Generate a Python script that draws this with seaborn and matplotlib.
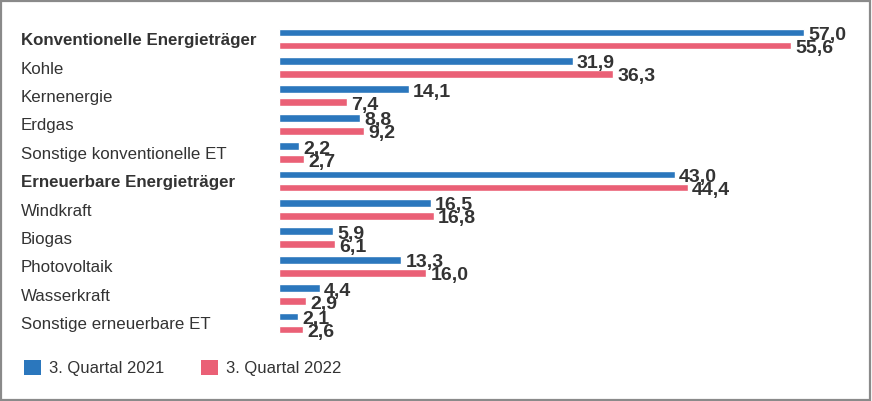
import matplotlib
matplotlib.use("Agg")
import matplotlib.pyplot as plt
import matplotlib.transforms as mtransforms
import numpy as np
import pandas as pd
import seaborn as sns
from matplotlib.patches import Patch, Rectangle

# --- data ---
kategorien = [
    "Konventionelle Energieträger",
    "Kohle",
    "Kernenergie",
    "Erdgas",
    "Sonstige konventionelle ET",
    "Erneuerbare Energieträger",
    "Windkraft",
    "Biogas",
    "Photovoltaik",
    "Wasserkraft",
    "Sonstige erneuerbare ET",
]
fett = ["Konventionelle Energieträger", "Erneuerbare Energieträger"]
werte_2021 = [57.0, 31.9, 14.1, 8.8, 2.2, 43.0, 16.5, 5.9, 13.3, 4.4, 2.1]
werte_2022 = [55.6, 36.3, 7.4, 9.2, 2.7, 44.4, 16.8, 6.1, 16.0, 2.9, 2.6]
serien = ["3. Quartal 2021", "3. Quartal 2022"]
farben = ["#2b77bd", "#ea6076"]

df = pd.DataFrame({
    "kategorie": kategorien * 2,
    "wert": werte_2021 + werte_2022,
    "quartal": [serien[0]] * len(kategorien) + [serien[1]] * len(kategorien),
})

W, H = 872, 401
textfarbe = "#333333"
sns.set_theme(style="white")
plt.rcParams["font.family"] = ["Liberation Sans", "DejaVu Sans"]

fig = plt.figure(figsize=(W / 100, H / 100), dpi=100)

# axes placed in pixel terms
x0, x1 = 279, 862
row0, step = 39.0, 28.4
y_top = row0 - step / 2
y_bot = y_top + step * len(kategorien)
ax = fig.add_axes([x0 / W, 1 - y_bot / H, (x1 - x0) / W, (y_bot - y_top) / H])

sns.barplot(
    data=df, x="wert", y="kategorie", hue="quartal", order=kategorien,
    hue_order=serien, palette=farben, orient="h", width=0.92, gap=0.4,
    legend=False, saturation=1, ax=ax,
)
ax.set_xlim(0, (x1 - x0) / 9.21)
ax.set_ylim(len(kategorien) - 0.5, -0.5)
ax.axis("off")

# value labels, German decimal comma
for cont in ax.containers:
    for bar in cont:
        w = bar.get_width()
        yc = bar.get_y() + bar.get_height() / 2
        ax.annotate(f"{w:.1f}".replace(".", ","), (w, yc), xytext=(3, -2.2),
                    textcoords="offset points", ha="left", va="center",
                    fontsize=14, fontweight="bold", color=textfarbe)

# category labels, left aligned
trans = mtransforms.blended_transform_factory(fig.transFigure, ax.transData)
for i, k in enumerate(kategorien):
    ax.text(21 / W, i + 0.06, k, transform=trans, ha="left", va="center",
            fontsize=12.2, color=textfarbe,
            fontweight="bold" if k in fett else "normal")

handles = [Patch(facecolor=c, edgecolor="none", label=s) for c, s in zip(farben, serien)]
fig.legend(handles=handles, loc="center left", bbox_to_anchor=(9 / W, 1 - 368 / H),
           ncol=2, frameon=False, fontsize=12, handlelength=1.0, handleheight=1.0,
           handletextpad=0.5, columnspacing=2.2, labelcolor=textfarbe)

fig.patches.append(Rectangle((0.001, 0.002), 0.997, 0.996, transform=fig.transFigure,
                             fill=False, edgecolor="#8a8a8a", linewidth=1.6))

fig.savefig("out.png", dpi=100)
